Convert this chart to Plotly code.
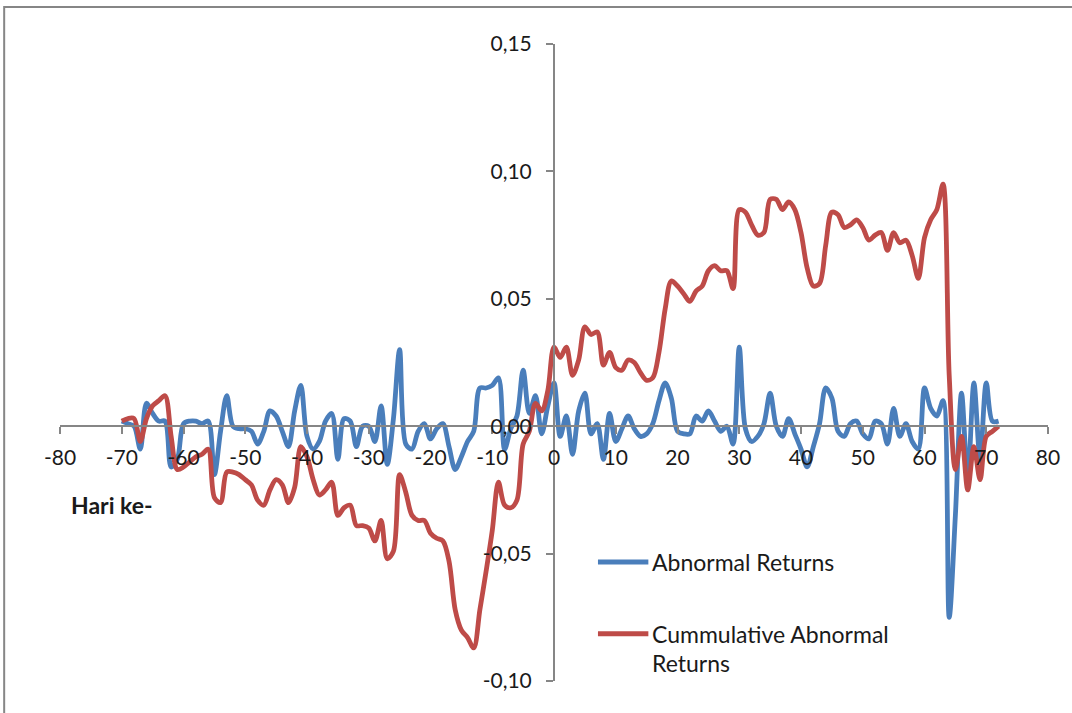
import plotly.graph_objects as go

# Event window, in trading days relative to the event date
days = list(range(-70, 73))

# Daily abnormal returns
abnormal_returns = [
    0.002, 0.001, 0.000, -0.009, 0.009, 0.005, 0.002, 0.002, -0.016, -0.013,   # -70 .. -61
    0.001, 0.002, 0.002, 0.001, 0.002, -0.019, -0.002, 0.012, 0.000, -0.001,   # -60 .. -51
    -0.001, -0.002, -0.007, -0.002, 0.006, 0.004, -0.002, -0.008, 0.006, 0.016, # -50 .. -41
    -0.004, -0.009, -0.006, 0.002, 0.005, -0.013, 0.003, 0.002, -0.008, 0.000,  # -40 .. -31
    0.000, -0.006, 0.008, -0.015, 0.003, 0.030, -0.007, -0.009, -0.002, 0.001,  # -30 .. -21
    -0.005, -0.001, 0.001, -0.008, -0.017, -0.012, -0.006, -0.002, 0.015, 0.015, # -20 .. -11
    0.016, 0.019, -0.009, -0.001, 0.004, 0.022, 0.005, 0.012, -0.003, 0.008,    # -10 .. -1
    0.017, -0.004, 0.004, -0.011, 0.006, 0.013, -0.003, 0.001, -0.013, 0.005,   # 0 .. 9
    -0.006, -0.001, 0.004, -0.001, -0.004, -0.003, 0.001, 0.010, 0.017, 0.011,  # 10 .. 19
    -0.002, -0.003, -0.003, 0.004, 0.002, 0.006, 0.002, -0.002, 0.000, -0.007,  # 20 .. 29
    0.031, -0.001, -0.006, -0.004, 0.001, 0.013, 0.000, -0.004, 0.003, -0.003,  # 30 .. 39
    -0.009, -0.016, -0.008, 0.001, 0.015, 0.011, -0.002, -0.004, 0.001, 0.002,  # 40 .. 49
    -0.003, -0.005, 0.002, 0.001, -0.007, 0.007, -0.004, 0.001, -0.006, -0.009, # 50 .. 59
    0.015, 0.007, 0.004, 0.010, -0.075, -0.035, 0.013, -0.021, 0.017, -0.013,   # 60 .. 69
    0.017, 0.002, 0.002,                                                        # 70 .. 72
]

# Cumulative abnormal returns
cumulative_abnormal_returns = [
    0.002, 0.003, 0.003, -0.006, 0.003, 0.008, 0.010, 0.012, -0.004, -0.017,    # -70 .. -61
    -0.016, -0.014, -0.012, -0.011, -0.009, -0.028, -0.030, -0.018, -0.018, -0.019, # -60 .. -51
    -0.021, -0.023, -0.029, -0.031, -0.025, -0.021, -0.023, -0.030, -0.024, -0.008, # -50 .. -41
    -0.012, -0.021, -0.027, -0.025, -0.022, -0.035, -0.032, -0.031, -0.039, -0.039, # -40 .. -31
    -0.040, -0.045, -0.037, -0.052, -0.049, -0.019, -0.026, -0.035, -0.037, -0.037, # -30 .. -21
    -0.042, -0.044, -0.045, -0.053, -0.072, -0.080, -0.083, -0.087, -0.072, -0.057, # -20 .. -11
    -0.041, -0.022, -0.031, -0.032, -0.029, -0.007, -0.002, 0.009, 0.006, 0.014,    # -10 .. -1
    0.031, 0.027, 0.031, 0.020, 0.026, 0.039, 0.036, 0.037, 0.024, 0.029,           # 0 .. 9
    0.023, 0.022, 0.026, 0.025, 0.021, 0.018, 0.019, 0.029, 0.046, 0.057,           # 10 .. 19
    0.055, 0.052, 0.049, 0.053, 0.055, 0.061, 0.063, 0.061, 0.061, 0.054,           # 20 .. 29
    0.085, 0.084, 0.079, 0.075, 0.076, 0.089, 0.089, 0.085, 0.088, 0.085,           # 30 .. 39
    0.076, 0.062, 0.055, 0.056, 0.071, 0.084, 0.083, 0.078, 0.079, 0.081,           # 40 .. 49
    0.078, 0.073, 0.075, 0.076, 0.069, 0.076, 0.072, 0.073, 0.067, 0.058,           # 50 .. 59
    0.074, 0.081, 0.085, 0.095, 0.020, -0.017, -0.004, -0.025, -0.008, -0.021,      # 60 .. 69
    -0.004, -0.002, 0.000,                                                          # 70 .. 72
]

# Axis ticks
x_tick_values = list(range(-80, 81, 10))
x_tick_labels = [str(v) for v in x_tick_values]
y_tick_values = [-0.10, -0.05, 0.00, 0.05, 0.10, 0.15]
y_tick_labels = ["-0,10", "-0,05", "0,00", "0,05", "0,10", "0,15"]

series_names = ["Abnormal Returns", "Cummulative Abnormal Returns"]
BLUE = "#4A7EBB"
RED = "#BE4B48"
AXIS_GREY = "#868686"
TEXT = "#1a1a1a"
FONT = "Lato"

fig = go.Figure()
fig.add_trace(go.Scatter(
    x=days, y=abnormal_returns, name=series_names[0], mode="lines",
    line=dict(color=BLUE, width=4.8, shape="spline", smoothing=0.9),
    showlegend=False,
))
fig.add_trace(go.Scatter(
    x=days, y=cumulative_abnormal_returns, name=series_names[1], mode="lines",
    line=dict(color=RED, width=4.8, shape="spline", smoothing=0.9),
    showlegend=False,
))

# Axes crossing at the origin
fig.update_xaxes(
    range=[-80, 80], tickvals=x_tick_values, ticktext=x_tick_labels,
    anchor="free", position=0.4, showline=True, linecolor=AXIS_GREY, linewidth=2,
    ticks="outside", ticklen=7, tickwidth=2, tickcolor=AXIS_GREY,
    ticklabelstandoff=6,
    showgrid=False, zeroline=False,
    tickfont=dict(family=FONT, size=21, color=TEXT),
)
fig.update_yaxes(
    range=[-0.10, 0.15], tickvals=y_tick_values, ticktext=y_tick_labels,
    anchor="free", position=0.5, showline=True, linecolor=AXIS_GREY, linewidth=2,
    ticks="outside", ticklen=7, tickwidth=2, tickcolor=AXIS_GREY,
    ticklabelstandoff=10,
    showgrid=False, zeroline=False,
    tickfont=dict(family=FONT, size=21, color=TEXT),
)

# Hand-placed legend entries
legend_rows = [
    (BLUE, 0.187, [series_names[0]]),
    (RED, 0.074, ["Cummulative Abnormal", "Returns"]),
]
for color, y, lines in legend_rows:
    fig.add_shape(type="line", xref="paper", yref="paper",
                  x0=0.5445, x1=0.5955, y0=y, y1=y,
                  line=dict(color=color, width=5))
    for i, txt in enumerate(lines):
        fig.add_annotation(text=txt, xref="paper", yref="paper",
                           x=0.597, y=y - i * 0.0455, xanchor="left", yanchor="middle",
                           showarrow=False, font=dict(family=FONT, size=23, color=TEXT))

fig.add_annotation(text="<b>Hari ke-</b>", xref="paper", yref="paper",
                   x=0.0524, y=0.276, xanchor="center", yanchor="middle",
                   showarrow=False, font=dict(family=FONT, size=23, color=TEXT))

# Chart-area frame
fig.add_shape(type="rect", xref="paper", yref="paper",
              x0=-0.0565, x1=1.2, y0=-0.2, y1=1.058,
              line=dict(color=AXIS_GREY, width=2), layer="below")

fig.update_layout(
    width=1072, height=713,
    margin=dict(l=60, r=20, t=44, b=32),
    paper_bgcolor="white", plot_bgcolor="white",
    font=dict(family=FONT),
)

fig.write_html("out.html")
